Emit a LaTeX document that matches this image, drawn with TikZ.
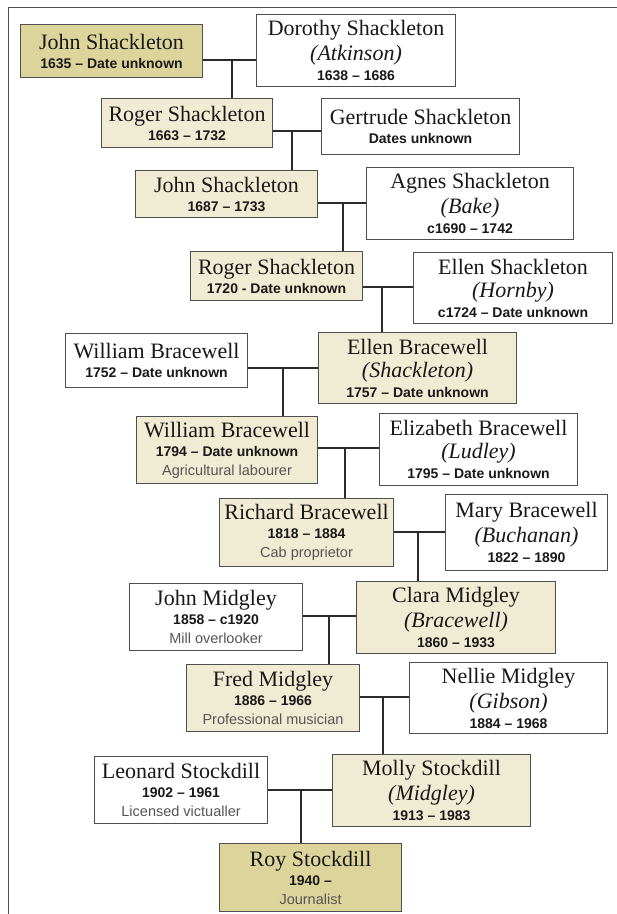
\documentclass[tikz,border=0pt]{standalone}
\usepackage{fontspec}
\setmainfont{Liberation Serif}
\setsansfont{Liberation Sans}
\definecolor{tandark}{HTML}{DDD49B}
\definecolor{tanlight}{HTML}{F0EBD3}
\definecolor{inkline}{HTML}{2B2B2B}
\definecolor{cardedge}{HTML}{4F4F4F}
\definecolor{jobgray}{HTML}{555555}
\newcommand\Nm[1]{{\rmfamily\fontsize{22}{19}\selectfont #1}}
\newcommand\Mn[1]{{\rmfamily\itshape\fontsize{22}{19}\selectfont (#1)}}
\newcommand\Dt[1]{{\sffamily\bfseries\fontsize{14}{19}\selectfont #1}}
\newcommand\Jb[1]{{\sffamily\fontsize{14.5}{19}\selectfont\color{jobgray}#1}}

\begin{document}
\begin{tikzpicture}[x=1pt, y=-1pt,
    card/.style n args={2}{draw=cardedge, line width=1.1pt, inner sep=0pt, anchor=north west,
      align=center, minimum width=#1pt, minimum height=#2pt,
      font=\fontsize{14}{19}\selectfont, text=black!90},
    kinline/.style={draw=inkline, line width=2.6pt}]
  \useasboundingbox (0,0) rectangle (617,914);
  \draw[cardedge, line width=1pt] (617,7) -- (8,7) -- (8,914);

  % Shackleton line
  \node[card={182}{53}, fill=tandark] (johnA) at (20,24) {\Nm{John Shackleton}\\\Dt{1635 -- Date unknown}};
  \node[card={199}{72}, fill=white] (dorothy) at (256,14) {\Nm{Dorothy Shackleton}\\[4pt]\Mn{Atkinson}\\[1pt]\Dt{1638 -- 1686}};
  \node[card={171}{49}, fill=tanlight] (rogerA) at (101,98) {\Nm{Roger Shackleton}\\\Dt{1663 -- 1732}};
  \node[card={198}{56}, fill=white] (gertrude) at (321,98) {\Nm{Gertrude Shackleton}\\\Dt{Dates unknown}};
  \node[card={182}{47}, fill=tanlight] (johnB) at (135,170) {\Nm{John Shackleton}\\\Dt{1687 -- 1733}};
  \node[card={207}{72}, fill=white] (agnes) at (366,167) {\Nm{Agnes Shackleton}\\[4pt]\Mn{Bake}\\[1pt]\Dt{c1690 -- 1742}};
  \node[card={172}{49}, fill=tanlight] (rogerB) at (190,251) {\Nm{Roger Shackleton}\\\Dt{1720 - Date unknown}};
  \node[card={199}{71}, fill=white] (ellenS) at (413,252) {\Nm{Ellen Shackleton}\\[4pt]\Mn{Hornby}\\[1pt]\Dt{c1724 -- Date unknown}};

  % Bracewell line
  \node[card={182}{54}, fill=white] (williamA) at (65,333) {\Nm{William Bracewell}\\\Dt{1752 -- Date unknown}};
  \node[card={198}{71}, fill=tanlight] (ellenB) at (318,332) {\Nm{Ellen Bracewell}\\[4pt]\Mn{Shackleton}\\[1pt]\Dt{1757 -- Date unknown}};
  \node[card={181}{67}, fill=tanlight] (williamB) at (136,416) {\Nm{William Bracewell}\\\Dt{1794 -- Date unknown}\\\Jb{Agricultural labourer}};
  \node[card={198}{72}, fill=white] (elizabeth) at (379,413) {\Nm{Elizabeth Bracewell}\\[4pt]\Mn{Ludley}\\[1pt]\Dt{1795 -- Date unknown}};
  \node[card={174}{68}, fill=tanlight] (richard) at (219,498) {\Nm{Richard Bracewell}\\\Dt{1818 -- 1884}\\\Jb{Cab proprietor}};
  \node[card={162}{76}, fill=white] (mary) at (445,494) {\Nm{Mary Bracewell}\\[4pt]\Mn{Buchanan}\\[1pt]\Dt{1822 -- 1890}};

  % Midgley line
  \node[card={173}{67}, fill=white] (johnM) at (129,583) {\Nm{John Midgley}\\\Dt{1858 -- c1920}\\\Jb{Mill overlooker}};
  \node[card={199}{72}, fill=tanlight] (clara) at (356,581) {\Nm{Clara Midgley}\\[4pt]\Mn{Bracewell}\\[1pt]\Dt{1860 -- 1933}};
  \node[card={173}{67}, fill=tanlight] (fred) at (186,664) {\Nm{Fred Midgley}\\\Dt{1886 -- 1966}\\\Jb{Professional musician}};
  \node[card={198}{71}, fill=white] (nellie) at (409,662) {\Nm{Nellie Midgley}\\[4pt]\Mn{Gibson}\\[1pt]\Dt{1884 -- 1968}};

  % Stockdill line
  \node[card={173}{67}, fill=white] (leonard) at (94,756) {\Nm{Leonard Stockdill}\\\Dt{1902 -- 1961}\\\Jb{Licensed victualler}};
  \node[card={198}{72}, fill=tanlight] (molly) at (332,754) {\Nm{Molly Stockdill}\\[4pt]\Mn{Midgley}\\[1pt]\Dt{1913 -- 1983}};
  \node[card={182}{68}, fill=tandark] (roy) at (219,843) {\Nm{Roy Stockdill}\\\Dt{1940 --}\\\Jb{Journalist}};

  % couples and their child
  \foreach \p/\q/\c/\x/\y in {johnA/dorothy/rogerA/232/60, rogerA/gertrude/johnB/292/131,
      johnB/agnes/rogerB/343/203, rogerB/ellenS/ellenB/382/287, williamA/ellenB/williamB/283/368,
      williamB/elizabeth/richard/345/448, richard/mary/clara/418/532, johnM/clara/fred/329/616,
      fred/nellie/molly/383/697, leonard/molly/roy/301/790} {
    \coordinate (j\c) at (\x,\y);
    \draw[kinline] (\p.east |- j\c) -- (\q.west |- j\c);
    \draw[kinline] (j\c) -- (\c.north -| j\c);
  }
\end{tikzpicture}
\end{document}
